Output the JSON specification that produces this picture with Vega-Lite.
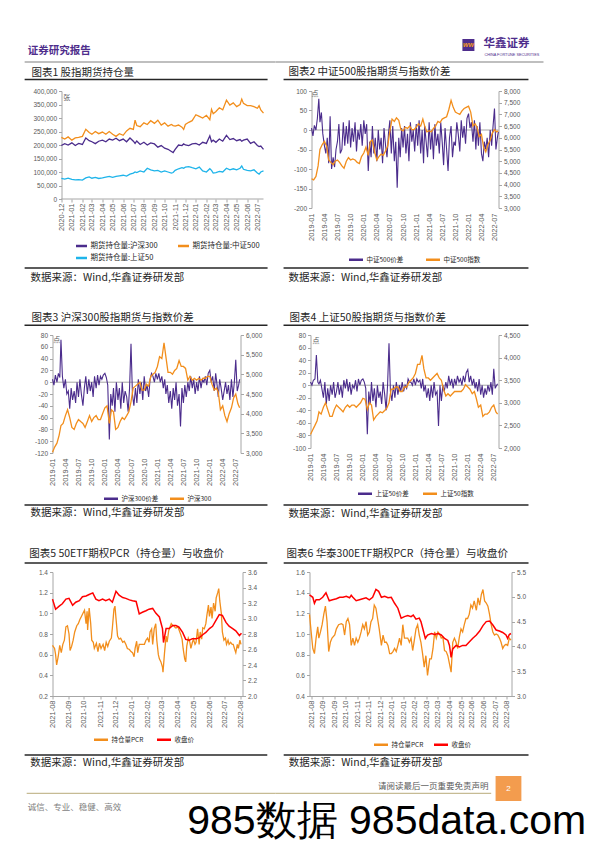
{
"$schema":"https://vega.github.io/schema/vega-lite/v6.json",
"background":"white",
"padding":{"left":23.5,"top":38,"right":0,"bottom":0},
"spacing":28,
"resolve":{"scale":{"color":"independent"},"legend":{"color":"independent"}},
"config":{
 "view":{"stroke":null},
 "font":"Liberation Sans",
 "locale":{"number":{"decimal":".","thousands":",","grouping":[3],"currency":["",""],"minus":"-"}},
 "axis":{"labelFont":"Liberation Sans","labelColor":"#595959","labelFontSize":6.5,"domainColor":"#A6A6A6","tickColor":"#A6A6A6","tickSize":3,"labelPadding":2,"grid":false,"labelOverlap":false,"labelFlush":false,"labelBound":false},
 "legend":{"orient":"none","direction":"horizontal","symbolType":"stroke","symbolStrokeWidth":2.5,"symbolSize":196,"labelFont":"Noto Sans CJK SC","labelFontSize":6.5,"labelColor":"#262626","labelOffset":2,"columnPadding":10,"padding":0}
},
"datasets":{
"c1":[
{"d":"2020-12-01","hs":198000,"zz":228000,"sz":76000},{"d":"2020-12-11","hs":205000,"zz":222000,"sz":74000},{"d":"2020-12-21","hs":200000,"zz":230000,"sz":77000},
{"d":"2021-01-01","hs":208000,"zz":218000,"sz":73000},{"d":"2021-01-11","hs":198000,"zz":226000,"sz":71000},{"d":"2021-01-21","hs":206000,"zz":228000,"sz":72000},
{"d":"2021-02-01","hs":202000,"zz":232000,"sz":70000},{"d":"2021-02-11","hs":226000,"zz":258000,"sz":78000},{"d":"2021-02-21","hs":216000,"zz":246000,"sz":82000},
{"d":"2021-03-01","hs":212000,"zz":240000,"sz":77000},{"d":"2021-03-11","hs":205000,"zz":250000,"sz":80000},{"d":"2021-03-21","hs":214000,"zz":242000,"sz":76000},
{"d":"2021-04-01","hs":218000,"zz":248000,"sz":78000},{"d":"2021-04-11","hs":212000,"zz":240000,"sz":81000},{"d":"2021-04-21","hs":222000,"zz":250000,"sz":84000},
{"d":"2021-05-01","hs":218000,"zz":240000,"sz":80000},{"d":"2021-05-11","hs":225000,"zz":232000,"sz":84000},{"d":"2021-05-21","hs":216000,"zz":242000,"sz":86000},
{"d":"2021-06-01","hs":222000,"zz":236000,"sz":88000},{"d":"2021-06-11","hs":212000,"zz":252000,"sz":85000},{"d":"2021-06-21","hs":226000,"zz":262000,"sz":92000},
{"d":"2021-07-01","hs":214000,"zz":258000,"sz":96000},{"d":"2021-07-06","hs":206000,"zz":292000,"sz":100000},{"d":"2021-07-11","hs":215000,"zz":272000,"sz":98000},{"d":"2021-07-21","hs":202000,"zz":268000,"sz":104000},
{"d":"2021-08-01","hs":210000,"zz":282000,"sz":100000},{"d":"2021-08-11","hs":200000,"zz":276000,"sz":114000},{"d":"2021-08-21","hs":208000,"zz":290000,"sz":108000},
{"d":"2021-09-01","hs":204000,"zz":280000,"sz":104000},{"d":"2021-09-11","hs":192000,"zz":292000,"sz":106000},{"d":"2021-09-21","hs":198000,"zz":274000,"sz":100000},
{"d":"2021-10-01","hs":188000,"zz":282000,"sz":104000},{"d":"2021-10-11","hs":184000,"zz":270000,"sz":100000},{"d":"2021-10-21","hs":176000,"zz":276000,"sz":96000},{"d":"2021-10-26","hs":172000,"zz":272000,"sz":98000},
{"d":"2021-11-01","hs":184000,"zz":270000,"sz":106000},{"d":"2021-11-11","hs":200000,"zz":274000,"sz":112000},{"d":"2021-11-21","hs":198000,"zz":266000,"sz":116000},{"d":"2021-11-26","hs":204000,"zz":258000,"sz":114000},
{"d":"2021-12-01","hs":200000,"zz":276000,"sz":118000},{"d":"2021-12-11","hs":198000,"zz":284000,"sz":120000},{"d":"2021-12-21","hs":204000,"zz":290000,"sz":116000},
{"d":"2022-01-01","hs":206000,"zz":312000,"sz":112000},{"d":"2022-01-11","hs":200000,"zz":306000,"sz":118000},{"d":"2022-01-21","hs":210000,"zz":300000,"sz":104000},
{"d":"2022-02-01","hs":206000,"zz":310000,"sz":100000},{"d":"2022-02-11","hs":234000,"zz":294000,"sz":112000},{"d":"2022-02-16","hs":212000,"zz":332000,"sz":106000},{"d":"2022-02-21","hs":218000,"zz":316000,"sz":96000},
{"d":"2022-03-01","hs":210000,"zz":324000,"sz":98000},{"d":"2022-03-11","hs":222000,"zz":338000,"sz":102000},{"d":"2022-03-21","hs":214000,"zz":330000,"sz":100000},
{"d":"2022-04-01","hs":236000,"zz":366000,"sz":114000},{"d":"2022-04-11","hs":220000,"zz":348000,"sz":108000},{"d":"2022-04-21","hs":224000,"zz":356000,"sz":112000},
{"d":"2022-05-01","hs":216000,"zz":342000,"sz":108000},{"d":"2022-05-11","hs":220000,"zz":350000,"sz":114000},{"d":"2022-05-16","hs":214000,"zz":370000,"sz":122000},{"d":"2022-05-21","hs":218000,"zz":354000,"sz":110000},
{"d":"2022-06-01","hs":222000,"zz":346000,"sz":106000},{"d":"2022-06-11","hs":206000,"zz":346000,"sz":104000},{"d":"2022-06-21","hs":212000,"zz":342000,"sz":108000},
{"d":"2022-07-01","hs":198000,"zz":336000,"sz":96000},{"d":"2022-07-06","hs":194000,"zz":346000,"sz":92000},{"d":"2022-07-11","hs":196000,"zz":330000,"sz":100000},{"d":"2022-07-19","hs":184000,"zz":318000,"sz":104000}
],
"sp":[
{"d":"2019-01-01","a":5,"b":5,"c":5},{"d":"2019-01-11","a":-15,"b":-5,"c":0},{"d":"2019-01-21","a":12,"b":12,"c":8},
{"d":"2019-02-01","a":0,"b":0,"c":10},{"d":"2019-02-11","a":30,"b":15,"c":48},{"d":"2019-02-21","a":80,"b":8,"c":5},
{"d":"2019-03-01","a":20,"b":72,"c":2},{"d":"2019-03-11","a":45,"b":10,"c":8},{"d":"2019-03-21","a":-10,"b":-10,"c":-5},
{"d":"2019-04-01","a":-40,"b":5,"c":-20},{"d":"2019-04-11","a":-60,"b":-20,"c":5},{"d":"2019-04-21","a":-20,"b":-15,"c":-30},
{"d":"2019-05-01","a":-85,"b":-45,"c":-5},{"d":"2019-05-11","a":35,"b":-10,"c":-25},{"d":"2019-05-21","a":-100,"b":-30,"c":0},
{"d":"2019-06-01","a":-70,"b":-15,"c":-15},{"d":"2019-06-11","a":-95,"b":-35,"c":5},{"d":"2019-06-21","a":-50,"b":0,"c":-20},
{"d":"2019-07-01","a":-30,"b":-25,"c":-10},{"d":"2019-07-11","a":15,"b":5,"c":5},{"d":"2019-07-21","a":-60,"b":-20,"c":-15},
{"d":"2019-08-01","a":-50,"b":-40,"c":0},{"d":"2019-08-11","a":20,"b":-10,"c":-20},{"d":"2019-08-21","a":-40,"b":10,"c":8},
{"d":"2019-09-01","a":10,"b":-20,"c":-5},{"d":"2019-09-11","a":-35,"b":5,"c":10},{"d":"2019-09-21","a":25,"b":-15,"c":-10},
{"d":"2019-10-01","a":-45,"b":0,"c":5},{"d":"2019-10-11","a":5,"b":-25,"c":-15},{"d":"2019-10-21","a":-30,"b":10,"c":0},
{"d":"2019-11-01","a":20,"b":-10,"c":-5},{"d":"2019-11-11","a":-55,"b":12,"c":8},{"d":"2019-11-21","a":0,"b":-5,"c":-10},
{"d":"2019-12-01","a":-25,"b":10,"c":10},{"d":"2019-12-11","a":15,"b":5,"c":0},{"d":"2019-12-21","a":-40,"b":12,"c":8},
{"d":"2020-01-01","a":25,"b":15,"c":10},{"d":"2020-01-11","a":-10,"b":8,"c":5},{"d":"2020-01-21","a":15,"b":-5,"c":-5},
{"d":"2020-02-01","a":-105,"b":-97,"c":-78},{"d":"2020-02-11","a":-30,"b":-20,"c":-10},{"d":"2020-02-21","a":-70,"b":-40,"c":-30},
{"d":"2020-03-01","a":10,"b":-10,"c":5},{"d":"2020-03-11","a":-60,"b":-50,"c":-25},{"d":"2020-03-21","a":-20,"b":0,"c":-5},
{"d":"2020-04-01","a":-80,"b":-30,"c":-35},{"d":"2020-04-11","a":0,"b":-10,"c":0},{"d":"2020-04-21","a":-50,"b":-45,"c":-20},
{"d":"2020-05-01","a":-20,"b":0,"c":-10},{"d":"2020-05-11","a":-85,"b":-35,"c":-30},{"d":"2020-05-21","a":5,"b":-15,"c":5},
{"d":"2020-06-01","a":-40,"b":-25,"c":-15},{"d":"2020-06-11","a":-70,"b":-50,"c":-40},{"d":"2020-06-21","a":-10,"b":-10,"c":0},
{"d":"2020-07-01","a":25,"b":65,"c":67},{"d":"2020-07-11","a":-60,"b":-20,"c":-10},{"d":"2020-07-21","a":10,"b":-40,"c":-25},
{"d":"2020-08-01","a":-80,"b":-10,"c":0},{"d":"2020-08-11","a":-30,"b":-35,"c":-20},{"d":"2020-08-21","a":-148,"b":5,"c":5},
{"d":"2020-09-01","a":-20,"b":-20,"c":-15},{"d":"2020-09-11","a":-70,"b":0,"c":0},{"d":"2020-09-21","a":5,"b":-30,"c":-10},
{"d":"2020-10-01","a":-45,"b":10,"c":5},{"d":"2020-10-11","a":10,"b":-15,"c":-10},{"d":"2020-10-21","a":-60,"b":-5,"c":0},
{"d":"2020-11-01","a":-10,"b":-25,"c":-5},{"d":"2020-11-11","a":-80,"b":5,"c":10},{"d":"2020-11-21","a":20,"b":15,"c":5},
{"d":"2020-12-01","a":-30,"b":10,"c":5},{"d":"2020-12-11","a":0,"b":0,"c":0},{"d":"2020-12-21","a":-55,"b":15,"c":10},
{"d":"2021-01-01","a":15,"b":5,"c":0},{"d":"2021-01-11","a":-40,"b":15,"c":10},{"d":"2021-01-21","a":25,"b":0,"c":5},
{"d":"2021-02-01","a":-60,"b":10,"c":8},{"d":"2021-02-11","a":0,"b":-10,"c":-5},{"d":"2021-02-21","a":-85,"b":5,"c":10},
{"d":"2021-03-01","a":10,"b":-20,"c":-10},{"d":"2021-03-11","a":-30,"b":-5,"c":0},{"d":"2021-03-21","a":-70,"b":-35,"c":-20},
{"d":"2021-04-01","a":20,"b":-15,"c":-5},{"d":"2021-04-11","a":-50,"b":-45,"c":-25},{"d":"2021-04-21","a":0,"b":-10,"c":0},
{"d":"2021-05-01","a":-75,"b":-30,"c":-20},{"d":"2021-05-11","a":15,"b":0,"c":5},{"d":"2021-05-21","a":-40,"b":-40,"c":-15},
{"d":"2021-06-01","a":-10,"b":-20,"c":-10},{"d":"2021-06-11","a":-60,"b":-75,"c":-65},{"d":"2021-06-21","a":20,"b":-10,"c":0},
{"d":"2021-07-01","a":-30,"b":-35,"c":-25},{"d":"2021-07-11","a":-90,"b":-5,"c":0},{"d":"2021-07-21","a":5,"b":-25,"c":-10},
{"d":"2021-08-01","a":-50,"b":0,"c":5},{"d":"2021-08-11","a":-105,"b":-15,"c":-5},{"d":"2021-08-21","a":-20,"b":10,"c":15},
{"d":"2021-09-01","a":10,"b":-10,"c":0},{"d":"2021-09-11","a":-70,"b":5,"c":10},{"d":"2021-09-21","a":-30,"b":-20,"c":-5},
{"d":"2021-10-01","a":-40,"b":0,"c":10},{"d":"2021-10-11","a":20,"b":-15,"c":0},{"d":"2021-10-21","a":-10,"b":10,"c":15},
{"d":"2021-11-01","a":-55,"b":-10,"c":5},{"d":"2021-11-11","a":25,"b":5,"c":10},{"d":"2021-11-21","a":-20,"b":0,"c":0},
{"d":"2021-12-01","a":10,"b":10,"c":15},{"d":"2021-12-11","a":-35,"b":-5,"c":5},{"d":"2021-12-21","a":30,"b":15,"c":20},
{"d":"2022-01-01","a":42,"b":20,"c":25},{"d":"2022-01-11","a":5,"b":0,"c":5},{"d":"2022-01-21","a":20,"b":10,"c":15},
{"d":"2022-02-01","a":-30,"b":-15,"c":0},{"d":"2022-02-11","a":25,"b":15,"c":10},{"d":"2022-02-21","a":-50,"b":-5,"c":-5},
{"d":"2022-03-01","a":10,"b":-25,"c":5},{"d":"2022-03-11","a":-40,"b":5,"c":-10},{"d":"2022-03-21","a":20,"b":-10,"c":10},
{"d":"2022-04-01","a":-60,"b":-30,"c":-15},{"d":"2022-04-11","a":-80,"b":-15,"c":0},{"d":"2022-04-21","a":-30,"b":0,"c":-20},
{"d":"2022-05-01","a":-50,"b":-20,"c":-5},{"d":"2022-05-11","a":-20,"b":-5,"c":-15},{"d":"2022-05-21","a":-70,"b":-30,"c":0},
{"d":"2022-06-01","a":0,"b":5,"c":-10},{"d":"2022-06-11","a":-40,"b":-25,"c":5},{"d":"2022-06-21","a":10,"b":0,"c":-15},
{"d":"2022-07-01","a":55,"b":38,"c":26},{"d":"2022-07-11","a":-50,"b":-15,"c":-5},{"d":"2022-07-21","a":-20,"b":-5,"c":0},{"d":"2022-07-28","a":-5,"b":5,"c":2}
],
"ix":[
{"d":"2019-01-01","a":4250,"b":3020,"c":2300},{"d":"2019-01-16","a":4200,"b":3150,"c":2400},{"d":"2019-02-01","a":4350,"b":3250,"c":2500},{"d":"2019-02-16","a":4800,"b":3450,"c":2600},
{"d":"2019-03-01","a":5500,"b":3700,"c":2800},{"d":"2019-03-16","a":5700,"b":3750,"c":2750},{"d":"2019-04-01","a":5850,"b":3950,"c":2900},{"d":"2019-04-16","a":5650,"b":4100,"c":3000},
{"d":"2019-05-01","a":5050,"b":3900,"c":2850},{"d":"2019-05-16","a":4950,"b":3650,"c":2700},{"d":"2019-06-01","a":4850,"b":3600,"c":2700},{"d":"2019-06-16","a":5000,"b":3750,"c":2850},
{"d":"2019-07-01","a":5050,"b":3850,"c":2950},{"d":"2019-07-16","a":4950,"b":3800,"c":2900},{"d":"2019-08-01","a":4800,"b":3750,"c":2850},{"d":"2019-08-16","a":4700,"b":3650,"c":2800},
{"d":"2019-09-01","a":5000,"b":3800,"c":2900},{"d":"2019-09-16","a":5150,"b":3950,"c":2950},{"d":"2019-10-01","a":5050,"b":3800,"c":2900},{"d":"2019-10-16","a":5100,"b":3900,"c":2950},
{"d":"2019-11-01","a":5050,"b":3950,"c":2950},{"d":"2019-11-16","a":4950,"b":3850,"c":2900},{"d":"2019-12-01","a":4900,"b":3850,"c":2950},{"d":"2019-12-16","a":5200,"b":4000,"c":3000},
{"d":"2020-01-01","a":5350,"b":4150,"c":3100},{"d":"2020-01-16","a":5600,"b":4200,"c":3080},{"d":"2020-02-01","a":5250,"b":3750,"c":2850},{"d":"2020-02-16","a":5850,"b":4100,"c":3000},
{"d":"2020-03-01","a":5900,"b":4050,"c":2950},{"d":"2020-03-16","a":5400,"b":3600,"c":2620},{"d":"2020-04-01","a":5050,"b":3650,"c":2700},{"d":"2020-04-16","a":5200,"b":3800,"c":2750},
{"d":"2020-05-01","a":5300,"b":3900,"c":2800},{"d":"2020-05-16","a":5250,"b":3850,"c":2780},{"d":"2020-06-01","a":5450,"b":3950,"c":2830},{"d":"2020-06-16","a":5650,"b":4050,"c":2880},
{"d":"2020-07-01","a":6300,"b":4300,"c":3000},{"d":"2020-07-16","a":6800,"b":4650,"c":3300},{"d":"2020-08-01","a":6700,"b":4700,"c":3300},{"d":"2020-08-16","a":6850,"b":4750,"c":3350},
{"d":"2020-09-01","a":6750,"b":4800,"c":3350},{"d":"2020-09-16","a":6350,"b":4600,"c":3250},{"d":"2020-10-01","a":6300,"b":4600,"c":3250},{"d":"2020-10-16","a":6450,"b":4750,"c":3350},
{"d":"2020-11-01","a":6400,"b":4700,"c":3350},{"d":"2020-11-16","a":6500,"b":4950,"c":3450},{"d":"2020-12-01","a":6350,"b":5000,"c":3500},{"d":"2020-12-16","a":6350,"b":5050,"c":3550},
{"d":"2021-01-01","a":6450,"b":5200,"c":3650},{"d":"2021-01-16","a":6600,"b":5450,"c":3850},{"d":"2021-02-01","a":6500,"b":5400,"c":3850},{"d":"2021-02-16","a":6800,"b":5800,"c":4050},
{"d":"2021-03-01","a":6500,"b":5450,"c":3750},{"d":"2021-03-16","a":6250,"b":5050,"c":3550},{"d":"2021-04-01","a":6300,"b":5050,"c":3550},{"d":"2021-04-16","a":6250,"b":5000,"c":3500},
{"d":"2021-05-01","a":6400,"b":5100,"c":3550},{"d":"2021-05-16","a":6500,"b":5150,"c":3600},{"d":"2021-06-01","a":6700,"b":5350,"c":3650},{"d":"2021-06-16","a":6650,"b":5200,"c":3550},
{"d":"2021-07-01","a":6800,"b":5200,"c":3500},{"d":"2021-07-16","a":6850,"b":5150,"c":3300},{"d":"2021-08-01","a":6900,"b":4850,"c":3150},{"d":"2021-08-16","a":7200,"b":4950,"c":3200},
{"d":"2021-09-01","a":7600,"b":4850,"c":3150},{"d":"2021-09-16","a":7300,"b":4900,"c":3200},{"d":"2021-10-01","a":7100,"b":4850,"c":3250},{"d":"2021-10-16","a":7050,"b":4900,"c":3250},
{"d":"2021-11-01","a":7000,"b":4850,"c":3250},{"d":"2021-11-16","a":7150,"b":4900,"c":3250},{"d":"2021-12-01","a":7250,"b":4900,"c":3300},{"d":"2021-12-16","a":7300,"b":4950,"c":3400},
{"d":"2022-01-01","a":7350,"b":4950,"c":3350},{"d":"2022-01-16","a":7100,"b":4750,"c":3300},{"d":"2022-02-01","a":6500,"b":4600,"c":3200},{"d":"2022-02-16","a":6600,"b":4650,"c":3250},
{"d":"2022-03-01","a":6450,"b":4550,"c":3100},{"d":"2022-03-16","a":6050,"b":4100,"c":2900},{"d":"2022-04-01","a":6150,"b":4200,"c":2950},{"d":"2022-04-16","a":5600,"b":3950,"c":2700},
{"d":"2022-05-01","a":5400,"b":3800,"c":2750},{"d":"2022-05-16","a":5700,"b":4000,"c":2750},{"d":"2022-06-01","a":5900,"b":4150,"c":2800},{"d":"2022-06-16","a":6200,"b":4400,"c":2900},
{"d":"2022-07-01","a":6350,"b":4500,"c":2950},{"d":"2022-07-16","a":6250,"b":4250,"c":2800},{"d":"2022-07-28","a":6300,"b":4150,"c":2750}
],
"r5":[
{"d":"2021-08-01","v":3.25},{"d":"2021-08-07","v":3.12},{"d":"2021-08-14","v":3.16},{"d":"2021-08-20","v":3.19},{"d":"2021-08-27","v":3.25},{"d":"2021-09-02","v":3.26},{"d":"2021-09-09","v":3.17},{"d":"2021-09-15","v":3.21},{"d":"2021-09-22","v":3.23},{"d":"2021-09-28","v":3.28},
{"d":"2021-10-05","v":3.29},{"d":"2021-10-11","v":3.31},{"d":"2021-10-18","v":3.33},{"d":"2021-10-24","v":3.25},{"d":"2021-10-30","v":3.23},{"d":"2021-11-06","v":3.25},{"d":"2021-11-12","v":3.23},{"d":"2021-11-19","v":3.25},{"d":"2021-11-25","v":3.21},
{"d":"2021-12-02","v":3.35},{"d":"2021-12-08","v":3.30},{"d":"2021-12-15","v":3.27},{"d":"2021-12-21","v":3.26},{"d":"2021-12-28","v":3.24},{"d":"2022-01-03","v":3.23},{"d":"2022-01-10","v":3.22},{"d":"2022-01-16","v":3.06},{"d":"2022-01-22","v":3.08},{"d":"2022-01-29","v":3.10},
{"d":"2022-02-04","v":3.12},{"d":"2022-02-11","v":3.13},{"d":"2022-02-17","v":3.07},{"d":"2022-02-24","v":3.02},{"d":"2022-03-02","v":2.87},{"d":"2022-03-04","v":2.69},{"d":"2022-03-09","v":2.87},{"d":"2022-03-15","v":2.87},{"d":"2022-03-22","v":2.91},{"d":"2022-03-28","v":2.91},
{"d":"2022-04-03","v":2.89},{"d":"2022-04-10","v":2.82},{"d":"2022-04-16","v":2.73},{"d":"2022-04-23","v":2.72},{"d":"2022-04-29","v":2.74},{"d":"2022-05-06","v":2.74},{"d":"2022-05-12","v":2.75},{"d":"2022-05-19","v":2.79},{"d":"2022-05-25","v":2.82},
{"d":"2022-06-01","v":2.87},{"d":"2022-06-07","v":2.90},{"d":"2022-06-13","v":2.97},{"d":"2022-06-20","v":3.05},{"d":"2022-06-26","v":3.04},{"d":"2022-07-03","v":2.95},{"d":"2022-07-09","v":2.90},{"d":"2022-07-16","v":2.87},{"d":"2022-07-22","v":2.84},{"d":"2022-07-29","v":2.78},{"d":"2022-08-02","v":2.81}
],
"p5":[
{"d":"2021-08-01","v":0.69},{"d":"2021-08-05","v":0.66},{"d":"2021-08-07","v":0.60},{"d":"2021-08-09","v":0.50},{"d":"2021-08-12","v":0.58},{"d":"2021-08-15","v":0.69},{"d":"2021-08-18","v":0.62},{"d":"2021-08-21","v":0.70},{"d":"2021-08-24","v":0.74},{"d":"2021-08-27","v":0.87},{"d":"2021-08-30","v":0.88},
{"d":"2021-09-02","v":0.80},{"d":"2021-09-04","v":0.64},{"d":"2021-09-07","v":0.68},{"d":"2021-09-10","v":0.74},{"d":"2021-09-13","v":0.82},{"d":"2021-09-17","v":0.88},{"d":"2021-09-20","v":0.90},{"d":"2021-09-23","v":0.94},{"d":"2021-09-26","v":0.97},{"d":"2021-09-29","v":1.00},
{"d":"2021-10-02","v":1.03},{"d":"2021-10-05","v":0.90},{"d":"2021-10-07","v":1.02},{"d":"2021-10-08","v":0.84},{"d":"2021-10-11","v":1.05},{"d":"2021-10-14","v":0.90},{"d":"2021-10-16","v":0.74},{"d":"2021-10-19","v":0.72},{"d":"2021-10-21","v":0.66},{"d":"2021-10-25","v":0.71},{"d":"2021-10-28","v":0.63},{"d":"2021-10-31","v":0.71},
{"d":"2021-11-03","v":0.66},{"d":"2021-11-07","v":0.70},{"d":"2021-11-10","v":0.64},{"d":"2021-11-13","v":0.72},{"d":"2021-11-16","v":0.68},{"d":"2021-11-19","v":0.73},{"d":"2021-11-23","v":0.76},{"d":"2021-11-25","v":0.86},{"d":"2021-11-28","v":1.04},{"d":"2021-11-30","v":1.07},
{"d":"2021-12-02","v":0.95},{"d":"2021-12-05","v":0.78},{"d":"2021-12-08","v":0.75},{"d":"2021-12-11","v":0.76},{"d":"2021-12-15","v":0.72},{"d":"2021-12-18","v":0.73},{"d":"2021-12-21","v":0.70},{"d":"2021-12-24","v":0.66},{"d":"2021-12-28","v":0.65},{"d":"2021-12-31","v":0.63},
{"d":"2022-01-03","v":0.62},{"d":"2022-01-06","v":0.58},{"d":"2022-01-08","v":0.66},{"d":"2022-01-11","v":0.73},{"d":"2022-01-13","v":0.62},{"d":"2022-01-16","v":0.70},{"d":"2022-01-19","v":0.70},{"d":"2022-01-22","v":0.70},{"d":"2022-01-26","v":0.70},{"d":"2022-01-29","v":0.74},
{"d":"2022-02-01","v":0.76},{"d":"2022-02-04","v":0.72},{"d":"2022-02-06","v":0.82},{"d":"2022-02-09","v":0.85},{"d":"2022-02-11","v":0.70},{"d":"2022-02-14","v":0.85},{"d":"2022-02-17","v":0.90},{"d":"2022-02-19","v":0.74},{"d":"2022-02-22","v":0.60},{"d":"2022-02-24","v":0.56},{"d":"2022-02-27","v":0.53},
{"d":"2022-03-02","v":0.48},{"d":"2022-03-03","v":0.43},{"d":"2022-03-06","v":0.62},{"d":"2022-03-09","v":0.78},{"d":"2022-03-11","v":0.72},{"d":"2022-03-14","v":0.83},{"d":"2022-03-16","v":0.86},{"d":"2022-03-19","v":0.90},{"d":"2022-03-22","v":0.88},{"d":"2022-03-24","v":0.88},{"d":"2022-03-27","v":0.86},{"d":"2022-03-29","v":0.86},
{"d":"2022-04-01","v":0.87},{"d":"2022-04-03","v":0.84},{"d":"2022-04-06","v":0.80},{"d":"2022-04-09","v":0.75},{"d":"2022-04-11","v":0.66},{"d":"2022-04-14","v":0.56},{"d":"2022-04-16","v":0.53},{"d":"2022-04-18","v":0.68},{"d":"2022-04-21","v":0.76},{"d":"2022-04-24","v":0.72},{"d":"2022-04-26","v":0.66},{"d":"2022-04-29","v":0.72},
{"d":"2022-05-01","v":0.75},{"d":"2022-05-04","v":0.70},{"d":"2022-05-06","v":0.72},{"d":"2022-05-09","v":0.85},{"d":"2022-05-12","v":0.70},{"d":"2022-05-14","v":0.82},{"d":"2022-05-17","v":0.75},{"d":"2022-05-19","v":0.86},{"d":"2022-05-22","v":0.85},{"d":"2022-05-25","v":0.90},{"d":"2022-05-27","v":0.98},{"d":"2022-05-30","v":1.08},
{"d":"2022-06-01","v":0.97},{"d":"2022-06-04","v":1.06},{"d":"2022-06-06","v":0.95},{"d":"2022-06-09","v":1.10},{"d":"2022-06-12","v":1.02},{"d":"2022-06-14","v":1.15},{"d":"2022-06-17","v":1.20},{"d":"2022-06-19","v":1.24},{"d":"2022-06-21","v":1.12},{"d":"2022-06-24","v":1.00},{"d":"2022-06-26","v":0.82},{"d":"2022-06-29","v":0.74},
{"d":"2022-07-02","v":0.76},{"d":"2022-07-04","v":0.70},{"d":"2022-07-07","v":0.74},{"d":"2022-07-09","v":0.70},{"d":"2022-07-12","v":0.72},{"d":"2022-07-15","v":0.70},{"d":"2022-07-17","v":0.70},{"d":"2022-07-20","v":0.65},{"d":"2022-07-22","v":0.62},{"d":"2022-07-25","v":0.70},{"d":"2022-07-27","v":0.66},{"d":"2022-07-30","v":0.74},{"d":"2022-08-01","v":0.70}
],
"r6":[
{"d":"2021-08-09","v":5.04},{"d":"2021-08-15","v":4.99},{"d":"2021-08-18","v":4.87},{"d":"2021-08-21","v":4.94},{"d":"2021-08-27","v":4.94},{"d":"2021-09-02","v":4.99},{"d":"2021-09-08","v":5.08},{"d":"2021-09-14","v":4.92},{"d":"2021-09-20","v":4.94},{"d":"2021-09-27","v":4.96},
{"d":"2021-10-03","v":4.99},{"d":"2021-10-09","v":4.99},{"d":"2021-10-15","v":5.01},{"d":"2021-10-21","v":4.98},{"d":"2021-10-24","v":5.03},{"d":"2021-10-27","v":4.99},{"d":"2021-11-02","v":4.92},{"d":"2021-11-08","v":4.94},{"d":"2021-11-14","v":4.96},{"d":"2021-11-20","v":4.98},{"d":"2021-11-26","v":4.94},
{"d":"2021-12-02","v":4.99},{"d":"2021-12-08","v":5.15},{"d":"2021-12-13","v":5.11},{"d":"2021-12-18","v":4.99},{"d":"2021-12-24","v":5.01},{"d":"2021-12-30","v":4.98},{"d":"2022-01-05","v":4.99},{"d":"2022-01-11","v":4.87},{"d":"2022-01-17","v":4.77},{"d":"2022-01-23","v":4.57},{"d":"2022-01-29","v":4.60},
{"d":"2022-02-04","v":4.62},{"d":"2022-02-10","v":4.60},{"d":"2022-02-14","v":4.63},{"d":"2022-02-19","v":4.55},{"d":"2022-02-25","v":4.57},{"d":"2022-02-28","v":4.50},{"d":"2022-03-05","v":4.29},{"d":"2022-03-08","v":4.16},{"d":"2022-03-12","v":4.23},{"d":"2022-03-19","v":4.26},{"d":"2022-03-25","v":4.24},{"d":"2022-03-31","v":4.26},
{"d":"2022-04-06","v":4.23},{"d":"2022-04-12","v":4.16},{"d":"2022-04-18","v":4.12},{"d":"2022-04-21","v":4.02},{"d":"2022-04-24","v":3.78},{"d":"2022-04-27","v":3.95},{"d":"2022-05-03","v":4.02},{"d":"2022-05-09","v":3.99},{"d":"2022-05-15","v":4.02},{"d":"2022-05-21","v":4.02},{"d":"2022-05-27","v":4.09},
{"d":"2022-06-02","v":4.16},{"d":"2022-06-09","v":4.23},{"d":"2022-06-15","v":4.31},{"d":"2022-06-21","v":4.42},{"d":"2022-06-27","v":4.50},{"d":"2022-07-03","v":4.51},{"d":"2022-07-09","v":4.43},{"d":"2022-07-15","v":4.33},{"d":"2022-07-21","v":4.31},{"d":"2022-07-27","v":4.28},{"d":"2022-08-02","v":4.23},{"d":"2022-08-05","v":4.16},{"d":"2022-08-08","v":4.24},{"d":"2022-08-11","v":4.26}
],
"p6":[
{"d":"2021-08-09","v":1.19},{"d":"2021-08-12","v":1.02},{"d":"2021-08-15","v":0.86},{"d":"2021-08-18","v":0.81},{"d":"2021-08-21","v":0.96},{"d":"2021-08-24","v":1.07},{"d":"2021-08-26","v":0.96},{"d":"2021-08-29","v":1.02},{"d":"2021-09-01","v":1.09},{"d":"2021-09-04","v":1.19},{"d":"2021-09-07","v":1.27},{"d":"2021-09-10","v":1.12},{"d":"2021-09-13","v":0.83},{"d":"2021-09-16","v":0.92},{"d":"2021-09-19","v":0.96},{"d":"2021-09-24","v":0.99},{"d":"2021-09-27","v":1.05},
{"d":"2021-10-01","v":1.09},{"d":"2021-10-06","v":1.10},{"d":"2021-10-09","v":1.09},{"d":"2021-10-12","v":0.99},{"d":"2021-10-15","v":1.12},{"d":"2021-10-18","v":1.15},{"d":"2021-10-21","v":1.09},{"d":"2021-10-24","v":0.89},{"d":"2021-10-27","v":0.96},{"d":"2021-10-30","v":0.89},
{"d":"2021-11-02","v":0.96},{"d":"2021-11-05","v":0.92},{"d":"2021-11-08","v":0.96},{"d":"2021-11-11","v":1.02},{"d":"2021-11-14","v":1.09},{"d":"2021-11-17","v":1.05},{"d":"2021-11-20","v":1.12},{"d":"2021-11-23","v":0.99},{"d":"2021-11-26","v":1.02},{"d":"2021-11-29","v":1.12},
{"d":"2021-12-02","v":1.15},{"d":"2021-12-05","v":1.28},{"d":"2021-12-08","v":1.25},{"d":"2021-12-11","v":1.15},{"d":"2021-12-14","v":1.05},{"d":"2021-12-18","v":0.89},{"d":"2021-12-21","v":0.99},{"d":"2021-12-24","v":0.92},{"d":"2021-12-27","v":0.92},{"d":"2021-12-30","v":0.89},
{"d":"2022-01-02","v":0.81},{"d":"2022-01-05","v":0.81},{"d":"2022-01-08","v":0.83},{"d":"2022-01-11","v":0.86},{"d":"2022-01-14","v":0.83},{"d":"2022-01-17","v":0.89},{"d":"2022-01-20","v":0.96},{"d":"2022-01-23","v":0.89},{"d":"2022-01-26","v":1.09},{"d":"2022-01-29","v":0.96},
{"d":"2022-02-01","v":0.96},{"d":"2022-02-04","v":0.96},{"d":"2022-02-07","v":0.92},{"d":"2022-02-10","v":0.96},{"d":"2022-02-13","v":0.84},{"d":"2022-02-16","v":0.94},{"d":"2022-02-19","v":1.05},{"d":"2022-02-22","v":1.09},{"d":"2022-02-25","v":0.99},{"d":"2022-02-28","v":0.92},
{"d":"2022-03-03","v":0.81},{"d":"2022-03-06","v":0.68},{"d":"2022-03-09","v":0.79},{"d":"2022-03-12","v":0.60},{"d":"2022-03-16","v":0.76},{"d":"2022-03-19","v":0.76},{"d":"2022-03-22","v":0.86},{"d":"2022-03-25","v":1.02},{"d":"2022-03-28","v":0.96},{"d":"2022-03-31","v":1.02},
{"d":"2022-04-03","v":1.00},{"d":"2022-04-06","v":0.96},{"d":"2022-04-09","v":0.97},{"d":"2022-04-12","v":0.84},{"d":"2022-04-15","v":0.83},{"d":"2022-04-18","v":0.79},{"d":"2022-04-21","v":0.71},{"d":"2022-04-24","v":0.63},{"d":"2022-04-27","v":0.92},{"d":"2022-04-30","v":0.96},
{"d":"2022-05-03","v":0.92},{"d":"2022-05-06","v":0.86},{"d":"2022-05-09","v":0.97},{"d":"2022-05-12","v":1.05},{"d":"2022-05-15","v":1.02},{"d":"2022-05-18","v":1.09},{"d":"2022-05-21","v":1.15},{"d":"2022-05-24","v":1.15},{"d":"2022-05-27","v":1.19},{"d":"2022-05-30","v":1.28},
{"d":"2022-06-02","v":1.25},{"d":"2022-06-05","v":1.32},{"d":"2022-06-09","v":1.23},{"d":"2022-06-12","v":1.35},{"d":"2022-06-15","v":1.28},{"d":"2022-06-18","v":1.38},{"d":"2022-06-21","v":1.43},{"d":"2022-06-24","v":1.32},{"d":"2022-06-27","v":1.30},{"d":"2022-06-30","v":1.27},
{"d":"2022-07-03","v":1.19},{"d":"2022-07-06","v":1.09},{"d":"2022-07-09","v":1.02},{"d":"2022-07-12","v":0.99},{"d":"2022-07-15","v":1.00},{"d":"2022-07-18","v":0.99},{"d":"2022-07-21","v":0.96},{"d":"2022-07-24","v":0.92},{"d":"2022-07-27","v":0.86},{"d":"2022-07-30","v":0.89},
{"d":"2022-08-02","v":0.90},{"d":"2022-08-05","v":0.89},{"d":"2022-08-08","v":0.96},{"d":"2022-08-11","v":0.94}
]
},
"vconcat":[
{"hconcat":[
 {"width":211,"height":108,"resolve":{"axis":{"x":"independent","y":"independent"}},"layer":[
  {"data":{"values":[{}]},"mark":{"type":"rule","color":"#A6A6A6","strokeWidth":1},"encoding":{"x":{"datum":{"year":2020,"month":12,"date":1},"type":"temporal","axis":null},"x2":{"datum":{"year":2022,"month":7,"date":19}},"y":{"datum":0,"type":"quantitative","axis":null}}},
  {"data":{"name":"c1"},"mark":{"type":"line","strokeWidth":1.3},"encoding":{
   "x":{"field":"d","type":"temporal","title":null,"scale":{"domain":[{"year":2020,"month":11,"date":5},{"year":2022,"month":7,"date":19}],"nice":false},"axis":{"domain":false,"ticks":true,"tickCount":{"interval":"month","step":1},"format":"%Y-%m","labelAngle":270,"labelFontSize":7.5,"labelPadding":1,"labelOverlap":false}},
   "y":{"field":"hs","type":"quantitative","title":null,"scale":{"domain":[0,400000],"nice":false,"zero":false},"axis":{"orient":"left","values":[0,50000,100000,150000,200000,250000,300000,350000,400000],"format":",d","offset":-9,"labelOverlap":false}},
   "color":{"datum":"期货持仓量:沪深300","type":"nominal","scale":{"domain":["期货持仓量:沪深300","期货持仓量:中证500","期货持仓量:上证50"],"range":["#4B2C8C","#F28E1C","#1EB4EA"]},"legend":{"title":null,"orient":"none","legendX":22,"legendY":148,"columns":2,"labelFontSize":7.5,"symbolSize":121,"columnPadding":14,"rowPadding":0}}}},
  {"data":{"name":"c1"},"mark":{"type":"line","strokeWidth":1.3},"encoding":{"x":{"field":"d","type":"temporal","axis":null},"y":{"field":"zz","type":"quantitative","axis":null},"color":{"datum":"期货持仓量:中证500","type":"nominal"}}},
  {"data":{"name":"c1"},"mark":{"type":"line","strokeWidth":1.3},"encoding":{"x":{"field":"d","type":"temporal","axis":null},"y":{"field":"sz","type":"quantitative","axis":null},"color":{"datum":"期货持仓量:上证50","type":"nominal"}}},
  {"data":{"values":[{}]},"mark":{"type":"text","text":"证券研究报告","align":"left","baseline":"middle","font":"Noto Sans CJK SC","fontSize":10.5,"fontWeight":"bold","color":"#4E2D8C"},"encoding":{"x":{"datum":{"year":2020,"month":8,"date":24},"type":"temporal","axis":null},"y":{"datum":548148,"type":"quantitative","axis":null}}},
  {"data":{"values":[{}]},"mark":{"type":"rule","color":"#808080","strokeWidth":1.2},"encoding":{"x":{"datum":{"year":2020,"month":8,"date":15},"type":"temporal","axis":null},"x2":{"datum":{"year":2022,"month":8,"date":23}},"y":{"datum":507407,"type":"quantitative","axis":null}}},
  {"data":{"values":[{}]},"mark":{"type":"text","text":"图表1 股指期货持仓量","align":"left","baseline":"middle","font":"Noto Sans CJK SC","fontSize":10.5,"color":"#262626"},"encoding":{"x":{"datum":{"year":2020,"month":9,"date":4},"type":"temporal","axis":null},"y":{"datum":468518,"type":"quantitative","axis":null}}},
  {"data":{"values":[{}]},"mark":{"type":"rule","color":"#262626","strokeWidth":1.5},"encoding":{"x":{"datum":{"year":2020,"month":8,"date":15},"type":"temporal","axis":null},"x2":{"datum":{"year":2022,"month":7,"date":31}},"y":{"datum":442593,"type":"quantitative","axis":null}}},
  {"data":{"values":[{}]},"mark":{"type":"rule","color":"#262626","strokeWidth":1.5},"encoding":{"x":{"datum":{"year":2020,"month":8,"date":15},"type":"temporal","axis":null},"x2":{"datum":{"year":2022,"month":7,"date":31}},"y":{"datum":-255555,"type":"quantitative","axis":null}}},
  {"data":{"values":[{}]},"mark":{"type":"text","text":"数据来源：Wind,华鑫证券研发部","align":"left","baseline":"middle","font":"Noto Sans CJK SC","fontSize":10.5,"color":"#262626"},"encoding":{"x":{"datum":{"year":2020,"month":9,"date":1},"type":"temporal","axis":null},"y":{"datum":-290741,"type":"quantitative","axis":null}}},
  {"data":{"values":[{}]},"mark":{"type":"text","text":"张","align":"center","baseline":"middle","font":"Noto Sans CJK SC","fontSize":7,"color":"#595959"},"encoding":{"x":{"datum":{"year":2020,"month":12,"date":17},"type":"temporal","axis":null},"y":{"datum":372963,"type":"quantitative","axis":null}}}
 ]},
 {"width":187,"height":117,"resolve":{"scale":{"y":"independent"},"axis":{"x":"independent","y":"independent"}},"layer":[
  {"resolve":{"axis":{"x":"independent","y":"independent"}},"layer":[
   {"data":{"values":[{}]},"mark":{"type":"rule","color":"#A6A6A6","strokeWidth":1},"encoding":{"x":{"datum":{"year":2019,"month":1,"date":1},"type":"temporal","axis":null},"x2":{"datum":{"year":2022,"month":7,"date":29}},"y":{"datum":0,"type":"quantitative","axis":null}}},
   {"data":{"name":"sp"},"mark":{"type":"line","strokeWidth":1.1},"encoding":{
    "x":{"field":"d","type":"temporal","title":null,"scale":{"domain":[{"year":2019,"month":1,"date":1},{"year":2022,"month":7,"date":29}],"nice":false},"axis":{"domain":false,"ticks":false,"tickCount":{"interval":"month","step":3},"format":"%Y-%m","labelAngle":270,"labelFontSize":7.5,"labelPadding":5,"labelOverlap":false}},
    "y":{"field":"a","type":"quantitative","title":null,"scale":{"domain":[-200,100],"nice":false,"zero":false},"axis":{"orient":"left","values":[-200,-150,-100,-50,0,50,100],"format":"d","labelOverlap":false}},
    "color":{"datum":"中证500价差","type":"nominal","scale":{"domain":["中证500价差","中证500指数"],"range":["#4B2C8C","#F28E1C"]},"legend":{"title":null,"orient":"none","legendX":36,"legendY":160,"columnPadding":17}}}},
   {"data":{"values":[{}]},"mark":{"type":"rule","color":"#808080","strokeWidth":1.2},"encoding":{"x":{"datum":{"year":2018,"month":4,"date":25},"type":"temporal","axis":null},"x2":{"datum":{"year":2023,"month":6,"date":8}},"y":{"datum":174.36,"type":"quantitative","axis":null}}},
   {"data":{"values":[{}]},"mark":{"type":"square","size":144,"filled":true,"opacity":1,"color":"#4E2D8C"},"encoding":{"x":{"datum":{"year":2021,"month":12,"date":31},"type":"temporal","axis":null},"y":{"datum":217.95,"type":"quantitative","axis":null}}},
   {"data":{"values":[{}]},"mark":{"type":"text","text":"ww","align":"center","baseline":"middle","font":"Liberation Sans","fontSize":7,"fontWeight":"bold","fontStyle":"italic","color":"#F39C1E"},"encoding":{"x":{"datum":{"year":2021,"month":12,"date":31},"type":"temporal","axis":null},"y":{"datum":217.95,"type":"quantitative","axis":null}}},
   {"data":{"values":[{}]},"mark":{"type":"text","text":"华鑫证券","align":"left","baseline":"middle","font":"Noto Sans CJK SC","fontSize":11.5,"fontWeight":"bold","color":"#4E2D8C"},"encoding":{"x":{"datum":{"year":2022,"month":4,"date":15},"type":"temporal","axis":null},"y":{"datum":220.51,"type":"quantitative","axis":null}}},
   {"data":{"values":[{}]},"mark":{"type":"text","text":"CHINA FORTUNE SECURITIES","align":"left","baseline":"middle","font":"Liberation Sans","fontSize":3.8,"color":"#4E2D8C"},"encoding":{"x":{"datum":{"year":2022,"month":4,"date":22},"type":"temporal","axis":null},"y":{"datum":191.03,"type":"quantitative","axis":null}}},
   {"data":{"values":[{}]},"mark":{"type":"text","text":"图表2 中证500股指期货与指数价差","align":"left","baseline":"middle","font":"Noto Sans CJK SC","fontSize":10.5,"color":"#262626"},"encoding":{"x":{"datum":{"year":2018,"month":7,"date":24},"type":"temporal","axis":null},"y":{"datum":147.44,"type":"quantitative","axis":null}}},
   {"data":{"values":[{}]},"mark":{"type":"rule","color":"#262626","strokeWidth":1.5},"encoding":{"x":{"datum":{"year":2018,"month":6,"date":20},"type":"temporal","axis":null},"x2":{"datum":{"year":2023,"month":2,"date":23}},"y":{"datum":129.49,"type":"quantitative","axis":null}}},
   {"data":{"values":[{}]},"mark":{"type":"rule","color":"#262626","strokeWidth":1.5},"encoding":{"x":{"datum":{"year":2018,"month":6,"date":20},"type":"temporal","axis":null},"x2":{"datum":{"year":2023,"month":2,"date":23}},"y":{"datum":-353.85,"type":"quantitative","axis":null}}},
   {"data":{"values":[{}]},"mark":{"type":"text","text":"数据来源：Wind,华鑫证券研发部","align":"left","baseline":"middle","font":"Noto Sans CJK SC","fontSize":10.5,"color":"#262626"},"encoding":{"x":{"datum":{"year":2018,"month":7,"date":24},"type":"temporal","axis":null},"y":{"datum":-378.21,"type":"quantitative","axis":null}}},
   {"data":{"values":[{}]},"mark":{"type":"text","text":"点","align":"center","baseline":"middle","font":"Noto Sans CJK SC","fontSize":7,"color":"#595959"},"encoding":{"x":{"datum":{"year":2019,"month":1,"date":25},"type":"temporal","axis":null},"y":{"datum":92.3,"type":"quantitative","axis":null}}}
  ]},
  {"data":{"name":"ix"},"mark":{"type":"line","strokeWidth":1.3},"encoding":{"x":{"field":"d","type":"temporal","axis":null},"y":{"field":"a","type":"quantitative","title":null,"scale":{"domain":[3000,8000],"nice":false,"zero":false},"axis":{"orient":"right","values":[3000,3500,4000,4500,5000,5500,6000,6500,7000,7500,8000],"format":",d","labelOverlap":false}},"color":{"datum":"中证500指数","type":"nominal"}}}
 ]}
],"spacing":48,"bounds":"flush","resolve":{"scale":{"color":"independent"},"legend":{"color":"independent"}}},
{"hconcat":[
 {"width":188,"height":118,"resolve":{"scale":{"y":"independent"},"axis":{"x":"independent","y":"independent"}},"layer":[
  {"resolve":{"axis":{"x":"independent","y":"independent"}},"layer":[
   {"data":{"values":[{}]},"mark":{"type":"rule","color":"#A6A6A6","strokeWidth":1},"encoding":{"x":{"datum":{"year":2019,"month":1,"date":1},"type":"temporal","axis":null},"x2":{"datum":{"year":2022,"month":8,"date":3}},"y":{"datum":0,"type":"quantitative","axis":null}}},
   {"data":{"name":"sp"},"mark":{"type":"line","strokeWidth":1.1},"encoding":{
    "x":{"field":"d","type":"temporal","title":null,"scale":{"domain":[{"year":2019,"month":1,"date":1},{"year":2022,"month":8,"date":3}],"nice":false},"axis":{"domain":false,"ticks":false,"tickCount":{"interval":"month","step":3},"format":"%Y-%m","labelAngle":270,"labelFontSize":7.5,"labelPadding":5,"labelOverlap":false}},
    "y":{"field":"b","type":"quantitative","title":null,"scale":{"domain":[-120,80],"nice":false,"zero":false},"axis":{"orient":"left","values":[-120,-100,-80,-60,-40,-20,0,20,40,60,80],"format":"d","labelOverlap":false}},
    "color":{"datum":"沪深300价差","type":"nominal","scale":{"domain":["沪深300价差","沪深300"],"range":["#4B2C8C","#F28E1C"]},"legend":{"title":null,"orient":"none","legendX":50,"legendY":155,"columnPadding":6}}}},
   {"data":{"values":[{}]},"mark":{"type":"text","text":"图表3 沪深300股指期货与指数价差","align":"left","baseline":"middle","font":"Noto Sans CJK SC","fontSize":10.5,"color":"#262626"},"encoding":{"x":{"datum":{"year":2018,"month":8,"date":8},"type":"temporal","axis":null},"y":{"datum":108.81,"type":"quantitative","axis":null}}},
   {"data":{"values":[{}]},"mark":{"type":"rule","color":"#262626","strokeWidth":1.5},"encoding":{"x":{"datum":{"year":2018,"month":6,"date":20},"type":"temporal","axis":null},"x2":{"datum":{"year":2023,"month":2,"date":7}},"y":{"datum":96.44,"type":"quantitative","axis":null}}},
   {"data":{"values":[{}]},"mark":{"type":"rule","color":"#262626","strokeWidth":1.5},"encoding":{"x":{"datum":{"year":2018,"month":6,"date":20},"type":"temporal","axis":null},"x2":{"datum":{"year":2023,"month":2,"date":7}},"y":{"datum":-208.14,"type":"quantitative","axis":null}}},
   {"data":{"values":[{}]},"mark":{"type":"text","text":"数据来源：Wind,华鑫证券研发部","align":"left","baseline":"middle","font":"Noto Sans CJK SC","fontSize":10.5,"color":"#262626"},"encoding":{"x":{"datum":{"year":2018,"month":8,"date":1},"type":"temporal","axis":null},"y":{"datum":-222.54,"type":"quantitative","axis":null}}},
   {"data":{"values":[{}]},"mark":{"type":"text","text":"点","align":"center","baseline":"middle","font":"Noto Sans CJK SC","fontSize":7,"color":"#595959"},"encoding":{"x":{"datum":{"year":2019,"month":1,"date":31},"type":"temporal","axis":null},"y":{"datum":72.03,"type":"quantitative","axis":null}}}
  ]},
  {"data":{"name":"ix"},"mark":{"type":"line","strokeWidth":1.3},"encoding":{"x":{"field":"d","type":"temporal","axis":null},"y":{"field":"b","type":"quantitative","title":null,"scale":{"domain":[3000,6000],"nice":false,"zero":false},"axis":{"orient":"right","values":[3000,3500,4000,4500,5000,5500,6000],"format":",d","labelOverlap":false}},"color":{"datum":"沪深300","type":"nominal"}}}
 ]},
 {"width":188,"height":113,"resolve":{"scale":{"y":"independent"},"axis":{"x":"independent","y":"independent"}},"layer":[
  {"resolve":{"axis":{"x":"independent","y":"independent"}},"layer":[
   {"data":{"values":[{}]},"mark":{"type":"rule","color":"#A6A6A6","strokeWidth":1},"encoding":{"x":{"datum":{"year":2019,"month":1,"date":1},"type":"temporal","axis":null},"x2":{"datum":{"year":2022,"month":8,"date":3}},"y":{"datum":0,"type":"quantitative","axis":null}}},
   {"data":{"name":"sp"},"mark":{"type":"line","strokeWidth":1.1},"encoding":{
    "x":{"field":"d","type":"temporal","title":null,"scale":{"domain":[{"year":2019,"month":1,"date":1},{"year":2022,"month":8,"date":3}],"nice":false},"axis":{"domain":false,"ticks":false,"tickCount":{"interval":"month","step":3},"format":"%Y-%m","labelAngle":270,"labelFontSize":7.5,"labelPadding":5,"labelOverlap":false}},
    "y":{"field":"c","type":"quantitative","title":null,"scale":{"domain":[-100,80],"nice":false,"zero":false},"axis":{"orient":"left","values":[-100,-80,-60,-40,-20,0,20,40,60,80],"format":"d","labelOverlap":false}},
    "color":{"datum":"上证50价差","type":"nominal","scale":{"domain":["上证50价差","上证50指数"],"range":["#4B2C8C","#F28E1C"]},"legend":{"title":null,"orient":"none","legendX":46,"legendY":150,"columnPadding":8}}}},
   {"data":{"values":[{}]},"mark":{"type":"text","text":"图表4 上证50股指期货与指数价差","align":"left","baseline":"middle","font":"Noto Sans CJK SC","fontSize":10.5,"color":"#262626"},"encoding":{"x":{"datum":{"year":2018,"month":8,"date":8},"type":"temporal","axis":null},"y":{"datum":107.08,"type":"quantitative","axis":null}}},
   {"data":{"values":[{}]},"mark":{"type":"rule","color":"#262626","strokeWidth":1.5},"encoding":{"x":{"datum":{"year":2018,"month":6,"date":27},"type":"temporal","axis":null},"x2":{"datum":{"year":2023,"month":2,"date":28}},"y":{"datum":95.45,"type":"quantitative","axis":null}}},
   {"data":{"values":[{}]},"mark":{"type":"rule","color":"#262626","strokeWidth":1.5},"encoding":{"x":{"datum":{"year":2018,"month":6,"date":27},"type":"temporal","axis":null},"x2":{"datum":{"year":2023,"month":2,"date":28}},"y":{"datum":-190.8,"type":"quantitative","axis":null}}},
   {"data":{"values":[{}]},"mark":{"type":"text","text":"数据来源：Wind,华鑫证券研发部","align":"left","baseline":"middle","font":"Noto Sans CJK SC","fontSize":10.5,"color":"#262626"},"encoding":{"x":{"datum":{"year":2018,"month":8,"date":1},"type":"temporal","axis":null},"y":{"datum":-204.34,"type":"quantitative","axis":null}}},
   {"data":{"values":[{}]},"mark":{"type":"text","text":"点","align":"center","baseline":"middle","font":"Noto Sans CJK SC","fontSize":7,"color":"#595959"},"encoding":{"x":{"datum":{"year":2019,"month":2,"date":9},"type":"temporal","axis":null},"y":{"datum":70.44,"type":"quantitative","axis":null}}}
  ]},
  {"data":{"name":"ix"},"mark":{"type":"line","strokeWidth":1.3},"encoding":{"x":{"field":"d","type":"temporal","axis":null},"y":{"field":"c","type":"quantitative","title":null,"scale":{"domain":[2000,4500],"nice":false,"zero":false},"axis":{"orient":"right","values":[2000,2500,3000,3500,4000,4500],"format":",d","labelOverlap":false}},"color":{"datum":"上证50指数","type":"nominal"}}}
 ]}
],"spacing":70,"bounds":"flush","resolve":{"scale":{"color":"independent"},"legend":{"color":"independent"}}},
{"hconcat":[
 {"width":190,"height":124,"resolve":{"scale":{"y":"independent"},"axis":{"x":"independent","y":"independent"}},"layer":[
  {"resolve":{"axis":{"x":"independent","y":"independent"}},"layer":[
   {"data":{"name":"p5"},"mark":{"type":"line","strokeWidth":1.3},"encoding":{
    "x":{"field":"d","type":"temporal","title":null,"scale":{"domain":[{"year":2021,"month":8,"date":1},{"year":2022,"month":8,"date":4}],"nice":false},"axis":{"domain":true,"ticks":true,"tickCount":{"interval":"month","step":1},"format":"%Y-%m","labelAngle":270,"labelFontSize":7.5,"labelPadding":1,"labelOverlap":false}},
    "y":{"field":"v","type":"quantitative","title":null,"scale":{"domain":[0.2,1.4],"nice":false,"zero":false},"axis":{"orient":"left","values":[0.2,0.4,0.6,0.8,1,1.2,1.4],"format":".1f","labelOverlap":false}},
    "color":{"datum":"持仓量PCR","type":"nominal","scale":{"domain":["持仓量PCR","收盘价"],"range":["#F28E1C","#FF0000"]},"legend":{"title":null,"orient":"none","legendX":40,"legendY":159,"columnPadding":8}}}},
   {"data":{"values":[{}]},"mark":{"type":"text","text":"图表5 50ETF期权PCR（持仓量）与收盘价","align":"left","baseline":"middle","font":"Noto Sans CJK SC","fontSize":10.5,"color":"#262626"},"encoding":{"x":{"datum":{"year":2021,"month":6,"date":17},"type":"temporal","axis":null},"y":{"datum":1.5742,"type":"quantitative","axis":null}}},
   {"data":{"values":[{}]},"mark":{"type":"rule","color":"#262626","strokeWidth":1.5},"encoding":{"x":{"datum":{"year":2021,"month":6,"date":8},"type":"temporal","axis":null},"x2":{"datum":{"year":2022,"month":9,"date":21}},"y":{"datum":1.4871,"type":"quantitative","axis":null}}},
   {"data":{"values":[{}]},"mark":{"type":"rule","color":"#262626","strokeWidth":1.5},"encoding":{"x":{"datum":{"year":2021,"month":6,"date":8},"type":"temporal","axis":null},"x2":{"datum":{"year":2022,"month":9,"date":21}},"y":{"datum":-0.371,"type":"quantitative","axis":null}}},
   {"data":{"values":[{}]},"mark":{"type":"text","text":"数据来源：Wind,华鑫证券研发部","align":"left","baseline":"middle","font":"Noto Sans CJK SC","fontSize":10.5,"color":"#262626"},"encoding":{"x":{"datum":{"year":2021,"month":6,"date":19},"type":"temporal","axis":null},"y":{"datum":-0.4532,"type":"quantitative","axis":null}}},
   {"data":{"values":[{}]},"mark":{"type":"rule","color":"#B8AA7A","strokeWidth":1},"encoding":{"x":{"datum":{"year":2021,"month":6,"date":12},"type":"temporal","axis":null},"x2":{"datum":{"year":2022,"month":10,"date":7}},"y":{"datum":-0.7416,"type":"quantitative","axis":null}}},
   {"data":{"values":[{}]},"mark":{"type":"text","text":"诚信、专业、稳健、高效","align":"left","baseline":"middle","font":"Noto Sans CJK SC","fontSize":8.5,"color":"#7F7F7F"},"encoding":{"x":{"datum":{"year":2021,"month":6,"date":14},"type":"temporal","axis":null},"y":{"datum":-0.879,"type":"quantitative","axis":null}}},
   {"data":{"values":[{}]},"mark":{"type":"text","text":"985数据 985data.com","align":"left","baseline":"alphabetic","font":"Liberation Sans","fontSize":41,"color":"#000000"},"encoding":{"x":{"datum":{"year":2022,"month":4,"date":19},"type":"temporal","axis":null},"y":{"datum":-1.1355,"type":"quantitative","axis":null}}}
  ]},
  {"data":{"name":"r5"},"mark":{"type":"line","strokeWidth":1.5},"encoding":{"x":{"field":"d","type":"temporal","axis":null},"y":{"field":"v","type":"quantitative","title":null,"scale":{"domain":[2.0,3.6],"nice":false,"zero":false},"axis":{"orient":"right","values":[2.0,2.2,2.4,2.6,2.8,3.0,3.2,3.4,3.6],"format":".1f","labelOverlap":false}},"color":{"datum":"收盘价","type":"nominal"}}}
 ]},
 {"width":202,"height":124,"resolve":{"scale":{"y":"independent"},"axis":{"x":"independent","y":"independent"}},"layer":[
  {"resolve":{"axis":{"x":"independent","y":"independent"}},"layer":[
   {"data":{"name":"p6"},"mark":{"type":"line","strokeWidth":1.3},"encoding":{
    "x":{"field":"d","type":"temporal","title":null,"scale":{"domain":[{"year":2021,"month":8,"date":9},{"year":2022,"month":8,"date":12}],"nice":false},"axis":{"domain":true,"ticks":true,"values":[{"year":2021,"month":8,"date":12},{"year":2021,"month":9,"date":2},{"year":2021,"month":9,"date":23},{"year":2021,"month":10,"date":14},{"year":2021,"month":11,"date":4},{"year":2021,"month":11,"date":25},{"year":2021,"month":12,"date":16},{"year":2022,"month":1,"date":6},{"year":2022,"month":1,"date":27},{"year":2022,"month":2,"date":17},{"year":2022,"month":3,"date":10},{"year":2022,"month":3,"date":31},{"year":2022,"month":4,"date":21},{"year":2022,"month":5,"date":12},{"year":2022,"month":6,"date":1},{"year":2022,"month":6,"date":22},{"year":2022,"month":7,"date":13},{"year":2022,"month":8,"date":3}],"format":"%Y-%m","labelAngle":270,"labelFontSize":7.5,"labelPadding":1,"labelOverlap":false}},
    "y":{"field":"v","type":"quantitative","title":null,"scale":{"domain":[0.4,1.6],"nice":false,"zero":false},"axis":{"orient":"left","values":[0.4,0.6,0.8,1,1.2,1.4,1.6],"format":".1f","labelOverlap":false}},
    "color":{"datum":"持仓量PCR","type":"nominal","scale":{"domain":["持仓量PCR","收盘价"],"range":["#F28E1C","#FF0000"]},"legend":{"title":null,"orient":"none","legendX":63,"legendY":164,"columnPadding":5}}}},
   {"data":{"values":[{}]},"mark":{"type":"text","text":"图表6 华泰300ETF期权PCR（持仓量）与收盘价","align":"left","baseline":"middle","font":"Noto Sans CJK SC","fontSize":10.5,"color":"#262626"},"encoding":{"x":{"datum":{"year":2021,"month":6,"date":28},"type":"temporal","axis":null},"y":{"datum":1.7742,"type":"quantitative","axis":null}}},
   {"data":{"values":[{}]},"mark":{"type":"rule","color":"#262626","strokeWidth":1.5},"encoding":{"x":{"datum":{"year":2021,"month":6,"date":23},"type":"temporal","axis":null},"x2":{"datum":{"year":2022,"month":9,"date":12}},"y":{"datum":1.6871,"type":"quantitative","axis":null}}},
   {"data":{"values":[{}]},"mark":{"type":"rule","color":"#262626","strokeWidth":1.5},"encoding":{"x":{"datum":{"year":2021,"month":6,"date":23},"type":"temporal","axis":null},"x2":{"datum":{"year":2022,"month":9,"date":12}},"y":{"datum":-0.171,"type":"quantitative","axis":null}}},
   {"data":{"values":[{}]},"mark":{"type":"text","text":"数据来源：Wind,华鑫证券研发部","align":"left","baseline":"middle","font":"Noto Sans CJK SC","fontSize":10.5,"color":"#262626"},"encoding":{"x":{"datum":{"year":2021,"month":7,"date":2},"type":"temporal","axis":null},"y":{"datum":-0.2532,"type":"quantitative","axis":null}}},
   {"data":{"values":[{}]},"mark":{"type":"rule","color":"#B8AA7A","strokeWidth":1},"encoding":{"x":{"datum":{"year":2021,"month":6,"date":8},"type":"temporal","axis":null},"x2":{"datum":{"year":2022,"month":7,"date":6}},"y":{"datum":-0.5416,"type":"quantitative","axis":null}}},
   {"data":{"values":[{}]},"mark":{"type":"text","text":"请阅读最后一页重要免责声明","align":"right","baseline":"middle","font":"Noto Sans CJK SC","fontSize":8.5,"color":"#595959"},"encoding":{"x":{"datum":{"year":2022,"month":7,"date":1},"type":"temporal","axis":null},"y":{"datum":-0.4681,"type":"quantitative","axis":null}}},
   {"data":{"values":[{}]},"mark":{"type":"rect","color":"#F39C4E"},"encoding":{"x":{"datum":{"year":2022,"month":7,"date":14},"type":"temporal","axis":null},"x2":{"datum":{"year":2022,"month":8,"date":30}},"y":{"datum":-0.3742,"type":"quantitative","axis":null},"y2":{"datum":-0.6161}}},
   {"data":{"values":[{}]},"mark":{"type":"text","text":"2","align":"center","baseline":"middle","font":"Liberation Sans","fontSize":8,"color":"#FFFFFF"},"encoding":{"x":{"datum":{"year":2022,"month":8,"date":6,"hours":12},"type":"temporal","axis":null},"y":{"datum":-0.4952,"type":"quantitative","axis":null}}}
  ]},
  {"data":{"name":"r6"},"mark":{"type":"line","strokeWidth":1.5},"encoding":{"x":{"field":"d","type":"temporal","axis":null},"y":{"field":"v","type":"quantitative","title":null,"scale":{"domain":[3.0,5.5],"nice":false,"zero":false},"axis":{"orient":"right","values":[3.0,3.5,4.0,4.5,5.0,5.5],"format":".1f","labelOverlap":false}},"color":{"datum":"收盘价","type":"nominal"}}}
 ]}
],"spacing":67,"bounds":"flush","resolve":{"scale":{"color":"independent"},"legend":{"color":"independent"}}}
]
}
